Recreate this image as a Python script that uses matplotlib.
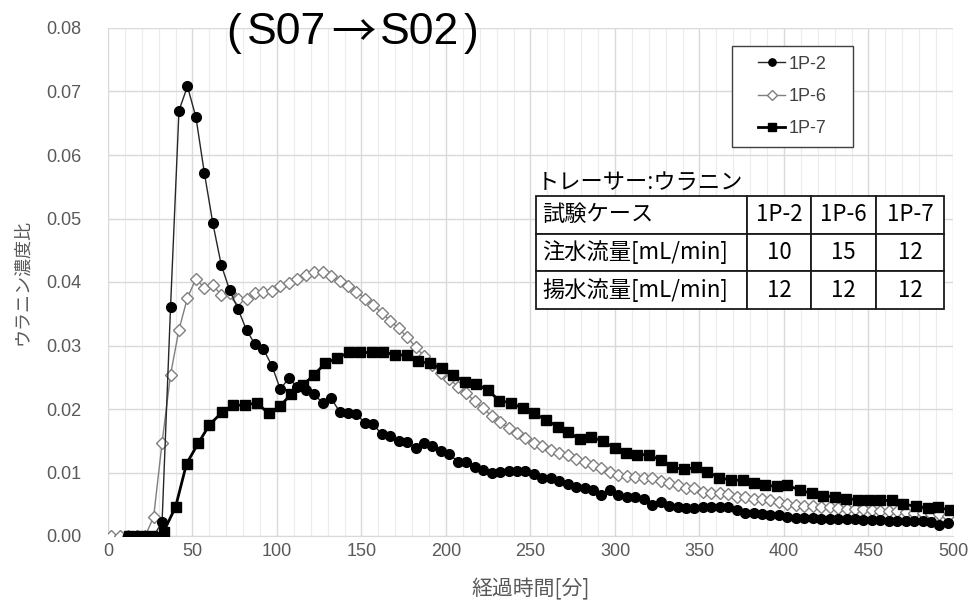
import matplotlib
matplotlib.use("Agg")
import matplotlib.pyplot as plt
from matplotlib.patches import Rectangle
from matplotlib.ticker import MultipleLocator, FormatStrFormatter

plt.rcParams['font.family'] = ['Noto Sans CJK JP', 'DejaVu Sans']

# data
p2_vals = [0, 0, 0, 0, 0.0022, 0.036, 0.067, 0.0708, 0.066, 0.0572,
           0.0493, 0.0427, 0.0387, 0.0357, 0.0324, 0.0302, 0.0294, 0.0268, 0.0231, 0.0249,
           0.0234, 0.023, 0.0224, 0.0209, 0.0217, 0.0196, 0.0193, 0.0192, 0.0178, 0.0176,
           0.016, 0.0157, 0.015, 0.0148, 0.0139, 0.0146, 0.0142, 0.0134, 0.0129, 0.0117,
           0.0117, 0.0109, 0.0104, 0.01, 0.0101, 0.0103, 0.0103, 0.0103, 0.0098, 0.0092,
           0.0091, 0.0086, 0.0082, 0.0077, 0.0075, 0.0072, 0.0065, 0.0072, 0.0065, 0.0062,
           0.0061, 0.0059, 0.0049, 0.0054, 0.0047, 0.0045, 0.0044, 0.0044, 0.0045, 0.0046,
           0.0046, 0.0045, 0.0041, 0.0036, 0.0036, 0.0035, 0.0033, 0.0033, 0.003, 0.0029,
           0.0028, 0.0028, 0.0027, 0.0027, 0.0026, 0.0026, 0.0026, 0.0025, 0.0025, 0.0025,
           0.0024, 0.0024, 0.0023, 0.0023, 0.0023, 0.0022, 0.0018, 0.002]
p2_time = list(range(12, 12 + 5 * len(p2_vals), 5))

p6_vals = [0, 0, 0, 0, 0, 0.003, 0.0147, 0.0254, 0.0325, 0.0375,
           0.0405, 0.0391, 0.0395, 0.038, 0.0382, 0.0374, 0.0373, 0.0382, 0.0385, 0.0386,
           0.0393, 0.0398, 0.0404, 0.0411, 0.0415, 0.0415, 0.041, 0.0402, 0.0394, 0.0385,
           0.0374, 0.0364, 0.0351, 0.0339, 0.0327, 0.0313, 0.0298, 0.0283, 0.0269, 0.0257,
           0.0248, 0.0235, 0.0225, 0.0212, 0.0201, 0.0189, 0.018, 0.017, 0.0162, 0.0154,
           0.0146, 0.0141, 0.0135, 0.013, 0.0128, 0.0122, 0.0117, 0.0112, 0.0107, 0.0101,
           0.0096, 0.0095, 0.0093, 0.0092, 0.0091, 0.0087, 0.0083, 0.008, 0.0075, 0.0075,
           0.007, 0.0067, 0.0067, 0.0066, 0.0062, 0.0061, 0.0059, 0.0058, 0.0056, 0.0054,
           0.0051, 0.0049, 0.0048, 0.0047, 0.0046, 0.0045, 0.0044, 0.0043, 0.0043, 0.0042,
           0.0041, 0.004, 0.004, 0.0039, 0.0038, 0.0037, 0.0036, 0.0035, 0.0034, 0.0032]
p6_time = list(range(2, 2 + 5 * len(p6_vals), 5))

p7_time = [12.6, 19, 26, 33, 40, 46.5, 53.4, 60, 67.5, 74,
           81, 88, 95, 102, 108.5, 115.5, 122, 128.5, 135.5, 142.5,
           149, 156, 163, 170, 177, 183.6, 190.5, 197.4, 204.3, 211,
           218, 224.7, 231.6, 238.3, 245.4, 252.1, 259.2, 266, 272.4, 279,
           286, 293, 300, 306.5, 313.2, 320.3, 327, 334, 341, 348,
           354.6, 361.5, 368.5, 375.6, 382.2, 389, 395.7, 402, 409.5, 416.4,
           423.3, 430, 436.5, 443.6, 450.3, 456.8, 463.7, 470.6, 478, 485,
           491.3, 498.2]
p7_vals = [0, 0, 0, 0.0007, 0.0046, 0.0114, 0.0146, 0.0175, 0.0195, 0.0206,
           0.0206, 0.021, 0.0193, 0.0205, 0.0224, 0.0238, 0.0254, 0.0272, 0.028, 0.0289,
           0.0289, 0.0289, 0.029, 0.0285, 0.0285, 0.0275, 0.0272, 0.0264, 0.0254, 0.0243,
           0.0239, 0.023, 0.0213, 0.021, 0.0201, 0.0193, 0.0183, 0.0172, 0.0164, 0.0152,
           0.0156, 0.0149, 0.0138, 0.0131, 0.0128, 0.0128, 0.0119, 0.0108, 0.0105, 0.0108,
           0.0101, 0.0092, 0.0088, 0.0088, 0.0084, 0.008, 0.0078, 0.008, 0.0072, 0.0067,
           0.0063, 0.0062, 0.0059, 0.0057, 0.0056, 0.0056, 0.0056, 0.005, 0.0047, 0.0044,
           0.0045, 0.0041]

cases = ['1P-2', '1P-6', '1P-7']
inject = ['10', '15', '12']
pump = ['12', '12', '12']

grey = '#595959'

fig = plt.figure(figsize=(9.78, 6.06), dpi=100)
ax = fig.add_axes([108 / 978, 1 - 536 / 606, 845 / 978, 508 / 606])

ax.plot(p6_time, p6_vals, color='#7f7f7f', lw=1.0, marker='D', ms=6.5,
        mfc='white', mec='#7f7f7f', mew=1.0, label='1P-6', zorder=3)
ax.plot(p7_time, p7_vals, color='black', lw=2.0, marker='s', ms=7,
        mfc='black', mec='black', label='1P-7', zorder=4)
ax.plot(p2_time, p2_vals, color='#262626', lw=1.0, marker='o', ms=7,
        mfc='black', mec='black', label='1P-2', zorder=5)

ax.set_xlim(0, 500)
ax.set_ylim(0, 0.08)
ax.xaxis.set_major_locator(MultipleLocator(50))
ax.xaxis.set_minor_locator(MultipleLocator(10))
ax.yaxis.set_major_locator(MultipleLocator(0.01))
ax.yaxis.set_major_formatter(FormatStrFormatter('%.2f'))
ax.grid(which='major', color='#d9d9d9', lw=1.0, zorder=0)
ax.grid(which='minor', axis='x', color='#ececec', lw=0.8, zorder=0)
ax.set_axisbelow(True)
for s in ['top', 'right', 'left']:
    ax.spines[s].set_visible(False)
ax.spines['bottom'].set_color('#d9d9d9')
ax.tick_params(which='both', length=0, colors=grey, labelsize=13)
ax.tick_params(axis='y', pad=19)
ax.tick_params(axis='x', pad=5)
for lab in ax.get_xticklabels() + ax.get_yticklabels():
    lab.set_family(['Liberation Sans', 'DejaVu Sans'])

ax.set_xlabel('経過時間[分]', fontsize=15, color=grey, labelpad=13)
ax.set_ylabel('ウラニン濃度比', fontsize=13, color=grey, labelpad=11)

# title, pieces placed separately so the spacing matches the original
ty = 1 - 33 / 606
tfam = ['Liberation Sans', 'Noto Sans CJK JP']
fig.text(226 / 978, ty, '(', fontsize=32, ha='left', va='center', family=tfam)
fig.text(326 / 978, ty, 'S07', fontsize=32, ha='right', va='center', family=tfam)
fig.text(353 / 978, ty, '→', fontsize=32, ha='center', va='center',
         family=['Noto Sans CJK JP'])
fig.text(380 / 978, ty, 'S02', fontsize=32, ha='left', va='center', family=tfam)
fig.text(478 / 978, ty, ')', fontsize=32, ha='right', va='center', family=tfam)

# legend in the order 1P-2, 1P-6, 1P-7, frame drawn separately
h, l = ax.get_legend_handles_labels()
order = [l.index(c) for c in cases]
leg = ax.legend([h[i] for i in order], [l[i] for i in order], loc='center',
                bbox_to_anchor=(0.81, 0.865), borderaxespad=0, frameon=False,
                handlelength=1.5, handletextpad=0.2, borderpad=0.3,
                labelspacing=0.85, markerscale=0.75,
                prop={'family': ['Liberation Sans', 'DejaVu Sans'], 'size': 13})
for t in leg.get_texts():
    t.set_color('#404040')
ax.add_patch(Rectangle((0.738, 0.766), 0.1432, 0.199, transform=ax.transAxes,
                       fill=True, facecolor='white', edgecolor='#404040', lw=1.0,
                       zorder=6))
leg.set_zorder(7)

# table of test conditions
ax.text(0.507, 0.695, 'トレーサー:ウラニン', transform=ax.transAxes, fontsize=16,
        ha='left', va='center', color='black')
cells = [['試験ケース'] + cases,
         ['注水流量[mL/min]'] + inject,
         ['揚水流量[mL/min]'] + pump]
cw = [211, 64, 65, 68]
tot = sum(cw)
tbl = ax.table(cellText=cells, colWidths=[c / tot for c in cw], cellLoc='center',
               bbox=[0.5065, 0.4469, 0.4828, 0.2224], zorder=6)
tbl.auto_set_font_size(False)
for (r, c), cell in tbl.get_celld().items():
    cell.set_linewidth(1.3)
    cell.set_edgecolor('#1a1a1a')
    cell.set_facecolor('white')
    cell.get_text().set_fontsize(16)
    if c == 0:
        cell.get_text().set_ha('left')
        cell.PAD = 0.03

fig.savefig('out.png', dpi=100)
